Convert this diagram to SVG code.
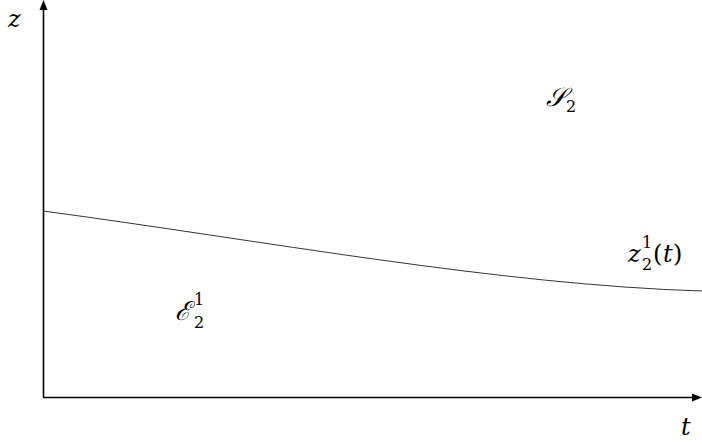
<svg xmlns="http://www.w3.org/2000/svg" width="702" height="446" viewBox="0 0 702 446">
<style>
.ax{stroke:#000;stroke-width:1.6;fill:none}
.cv{stroke:#000;stroke-width:0.8;fill:none}
text{fill:#000;font-family:"DejaVu Serif",serif}
.it{font-style:italic;font-size:24px}
.rm{font-size:24px}
.cal{font-style:italic;font-size:26px}
.sub{font-size:16px}
</style>
<g id="connectors">
<path class="ax" d="M43.5,397 V8"/>
<polygon points="43.5,0 39.5,10 47.5,10" fill="#000"/>
<path class="ax" d="M43,397.5 H694"/>
<polygon points="702,397.5 692,393.5 692,401.5" fill="#000"/>
<path class="cv" d="M43,211 C260,240 500,285 702,291"/>
</g>
<g id="label-z"><text class="it" x="8" y="27">z</text></g>
<g id="label-t"><text class="it" x="681" y="435">t</text></g>
<g id="label-S2"><text class="cal" x="546" y="106">𝒮</text><text class="sub" x="566" y="112">2</text></g>
<g id="label-E21"><text class="cal" x="175" y="320">ℰ</text><text class="sub" x="194" y="305">1</text><text class="sub" x="194" y="328">2</text></g>
<g id="label-z21t"><text class="it" x="628" y="262">z</text><text class="sub" x="642" y="248">1</text><text class="sub" x="642" y="270">2</text><text class="rm" x="653" y="262">(</text><text class="it" x="663" y="262">t</text><text class="rm" x="673" y="262">)</text></g>
</svg>
